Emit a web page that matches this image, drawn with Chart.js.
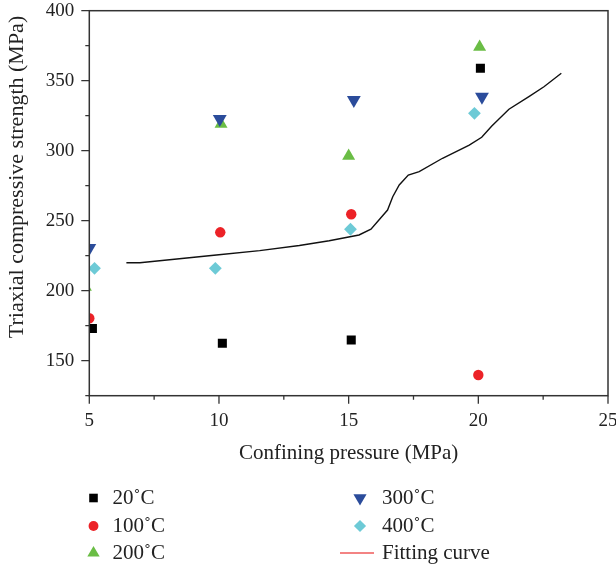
<!DOCTYPE html>
<html>
<head>
<meta charset="utf-8">
<script src="https://cdn.jsdelivr.net/npm/chart.js@4/dist/chart.umd.min.js"></script>
<style>
    html, body { margin: 0; padding: 0; background: #fff; }
    #wrap { width: 616px; height: 566px; position: relative; }
</style>
</head>
<body>
<div id="wrap"><canvas id="myChart" width="616" height="566"></canvas></div>
<script>
// confining pressure (MPa) / strength (MPa) per temperature
const p20 = [5.12, 10.13, 15.1, 20.08];
const s20 = [173, 162.5, 164.8, 358.9];
const p100 = [5.0, 10.05, 15.1, 20.0];
const s100 = [180.3, 241.7, 254.6, 139.8];
const p200 = [4.85, 10.08, 15.0, 20.05];
const s200 = [202.6, 319, 296.2, 374];
const p300 = [5.0, 10.03, 15.2, 20.14];
const s300 = [230.5, 322.6, 336.2, 338.6];
const p400 = [5.2, 9.86, 15.07, 19.85];
const s400 = [216, 216, 243.9, 326.7];

// fitting curve
const fitX = [6.43, 6.95, 9.9, 11.57, 13.1, 14.25, 15.4, 15.86, 16.5, 16.7, 16.95, 17.3, 17.72, 18.62, 19.65, 20.13, 20.52, 21.18, 21.95, 22.53, 23.2];
const fitY = [220, 220, 225.5, 228.6, 232.3, 235.7, 239.8, 244, 257.6, 267.1, 275.5, 282.6, 285, 294.6, 304, 309.6, 317.6, 329.6, 338.6, 345.7, 355.3];

const xTicks = [5, 10, 15, 20, 25];
const yTicks = [150, 200, 250, 300, 350, 400];

const serif = "'Liberation Serif', 'Times New Roman', serif";

function pts(xs, ys) {
    return xs.map((x, i) => ({ x: x, y: ys[i] }));
}

function markerSet(label, xs, ys, color, style, radius, rotation, order) {
    return {
        label: label,
        data: pts(xs, ys),
        backgroundColor: color,
        borderColor: color,
        borderWidth: 0,
        pointStyle: style,
        pointRadius: radius,
        pointRotation: rotation,
        showLine: false,
        clip: 0,
        order: order
    };
}

const datasets = [
    markerSet("20˚C", p20, s20, "#000000", "rect", 6.4, 0, 1),
    markerSet("100˚C", p100, s100, "#ec2227", "circle", 5.2, 0, 2),
    markerSet("200˚C", p200, s200, "#6abd45", "triangle", 7.5, 0, 4),
    markerSet("300˚C", p300, s300, "#2b4c9b", "triangle", 8, 180, 3),
    markerSet("400˚C", p400, s400, "#6dcad6", "rectRot", 6.4, 0, 5),
    {
        label: "Fitting curve",
        data: pts(fitX, fitY),
        borderColor: "#111",
        borderWidth: 1.4,
        pointRadius: 0,
        showLine: true,
        tension: 0,
        clip: 0,
        order: 6,
        legendColor: "#ef5a5a"
    }
];

// frame, tick marks, axis titles and the two-column legend
const decor = {
    id: "decor",
    afterDraw(chart) {
        const ctx = chart.ctx;
        const a = chart.chartArea;
        const xs = chart.scales.x;
        const ys = chart.scales.y;
        ctx.save();
        ctx.strokeStyle = "#333";
        ctx.lineWidth = 1.5;
        ctx.strokeRect(a.left, a.top, a.right - a.left, a.bottom - a.top);

        ctx.lineWidth = 1.3;
        ctx.beginPath();
        for (let v = 5; v <= 25.001; v += 2.5) {
            const px = xs.getPixelForValue(v);
            const len = (Math.abs(v % 5) < 0.01) ? 8 : 4;
            ctx.moveTo(px, a.bottom);
            ctx.lineTo(px, a.bottom + len);
        }
        for (let v = 125; v <= 400; v += 25) {
            const py = ys.getPixelForValue(v);
            const len = (v % 50 === 0) ? 8 : 4;
            ctx.moveTo(a.left, py);
            ctx.lineTo(a.left - len, py);
        }
        ctx.stroke();

        // axis titles
        ctx.fillStyle = "#222";
        ctx.textAlign = "center";
        ctx.textBaseline = "middle";
        ctx.font = "21px " + serif;
        ctx.fillText("Confining pressure (MPa)", (a.left + a.right) / 2, 453);
        ctx.save();
        ctx.translate(17.5, 177);
        ctx.rotate(-Math.PI / 2);
        ctx.font = "22px " + serif;
        ctx.fillText("Triaxial compressive strength (MPa)", 0, 0);
        ctx.restore();

        // legend
        const cols = [{ mx: 93.5, tx: 112.5 }, { mx: 360, tx: 382 }];
        const rows = [498, 526, 553];
        ctx.font = "21px " + serif;
        ctx.textAlign = "left";
        chart.data.datasets.forEach((ds, i) => {
            const c = cols[Math.floor(i / 3)];
            const y = rows[i % 3];
            if (ds.showLine) {
                ctx.strokeStyle = ds.legendColor;
                ctx.lineWidth = 1.6;
                ctx.beginPath();
                ctx.moveTo(c.mx - 20, y);
                ctx.lineTo(c.mx + 14, y);
                ctx.stroke();
            } else {
                ctx.fillStyle = ds.backgroundColor;
                Chart.helpers.drawPoint(ctx, {
                    pointStyle: ds.pointStyle,
                    radius: ds.pointRadius * 0.95,
                    rotation: ds.pointRotation,
                    borderWidth: 0
                }, c.mx, y);
            }
            ctx.fillStyle = "#222";
            ctx.fillText(ds.label, c.tx, y);
        });
        ctx.restore();
    }
};

function noPad(scale) {
    scale.paddingLeft = 0;
    scale.paddingRight = 0;
    scale.paddingTop = 0;
    scale.paddingBottom = 0;
}

let canvas = document.querySelector("#myChart");
let myChart = new Chart(canvas.getContext("2d"), {
    type: "scatter",
    data: { datasets: datasets },
    plugins: [decor],
    options: {
        responsive: false,
        animation: false,
        events: [],
        layout: {
            padding: { left: 0, right: 6.7, top: 10.7, bottom: 130.3 }
        },
        plugins: {
            legend: { display: false },
            tooltip: { enabled: false }
        },
        scales: {
            x: {
                type: "linear",
                min: 5,
                max: 25,
                afterFit: scale => { scale.height = 40; noPad(scale); },
                afterBuildTicks: scale => {
                    scale.ticks = xTicks.map(v => ({ value: v }));
                },
                grid: { display: false, drawTicks: false },
                border: { display: false },
                ticks: {
                    color: "#222",
                    padding: 14,
                    maxRotation: 0,
                    autoSkip: false,
                    font: { family: serif, size: 19 }
                }
            },
            y: {
                type: "linear",
                min: 125,
                max: 400,
                afterFit: scale => { scale.width = 89.3; noPad(scale); },
                afterBuildTicks: scale => {
                    scale.ticks = yTicks.map(v => ({ value: v }));
                },
                grid: { display: false, drawTicks: false },
                border: { display: false },
                ticks: {
                    color: "#222",
                    padding: 15,
                    autoSkip: false,
                    font: { family: serif, size: 19 }
                }
            }
        }
    }
});
</script>
</body>
</html>
